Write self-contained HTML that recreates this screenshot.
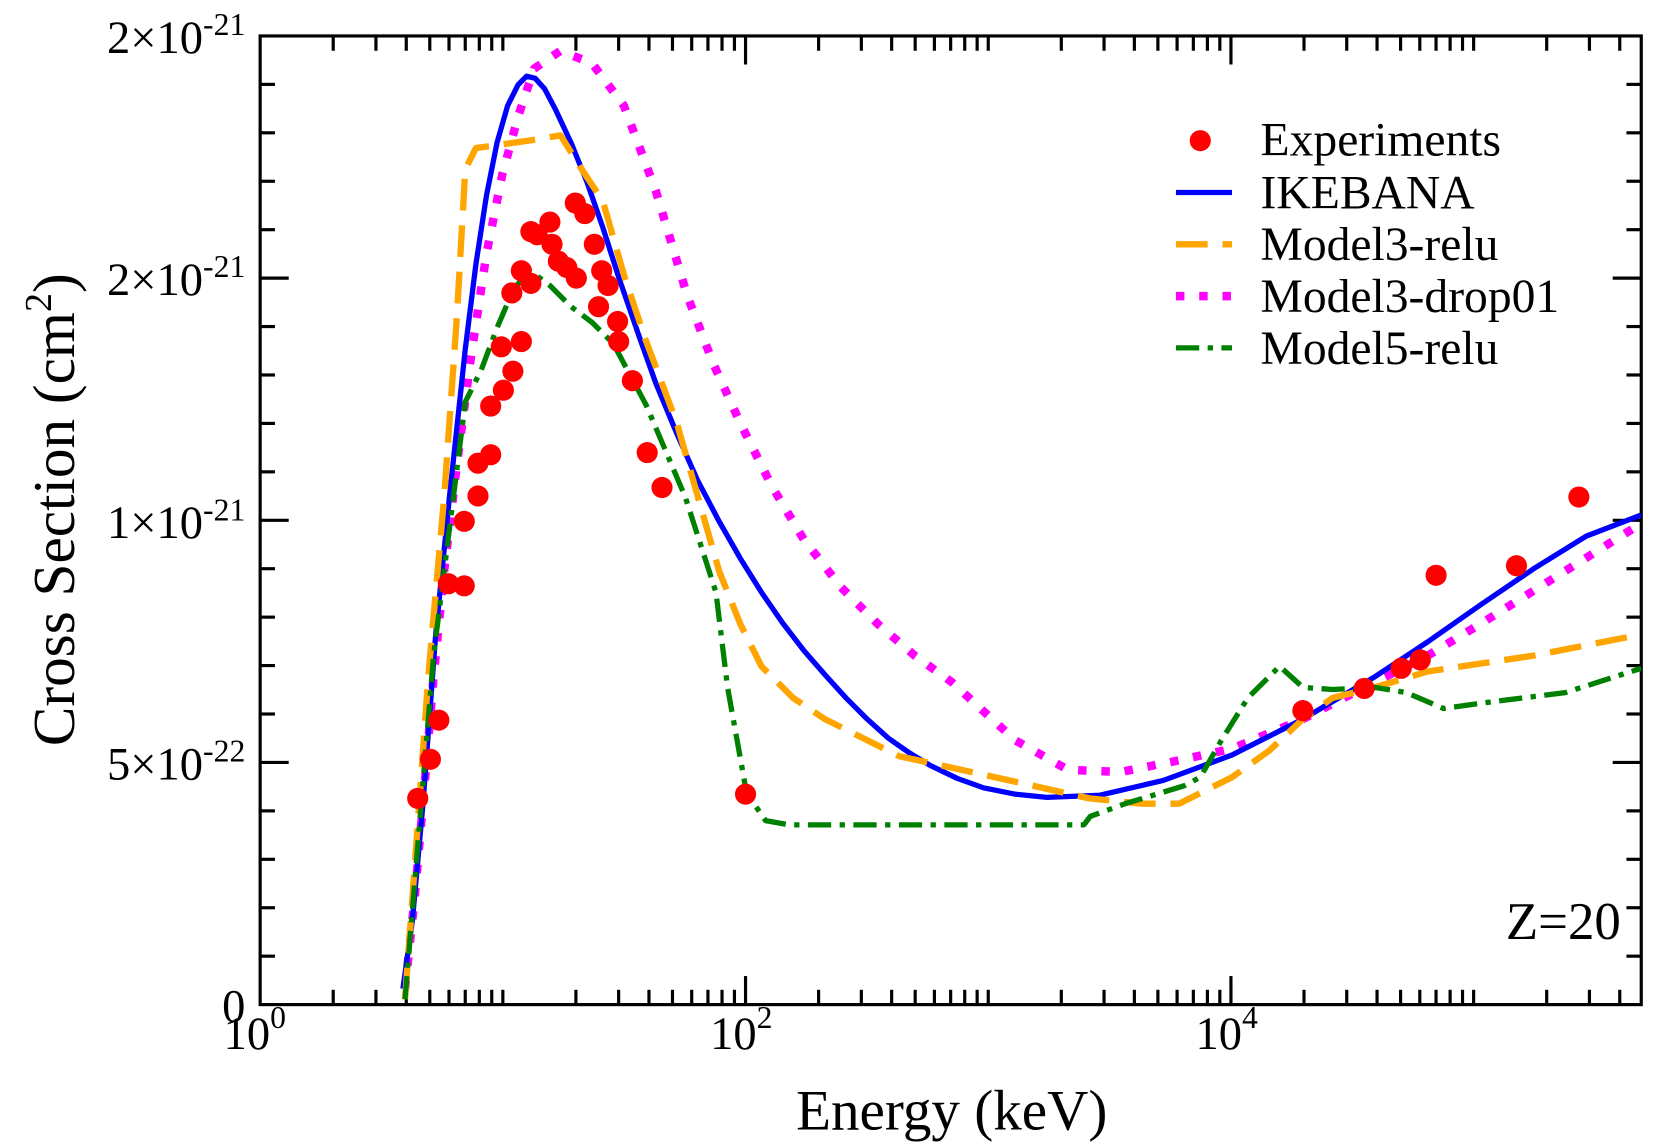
<!DOCTYPE html>
<html><head><meta charset="utf-8"><style>html,body{margin:0;padding:0;background:#fff}svg{display:block}</style></head>
<body>
<svg width="1655" height="1148" viewBox="0 0 1565 1085.6" preserveAspectRatio="none" xmlns="http://www.w3.org/2000/svg" font-family="Liberation Serif, serif">
<defs><clipPath id="c"><rect x="246" y="34" width="1306" height="916"/></clipPath></defs>
<rect x="246" y="34" width="1306" height="916" stroke="#000" stroke-width="3" fill="none"/>
<g stroke="#000" stroke-width="3" id="ticks"></g>
<g font-size="44" fill="#000" text-anchor="end">
<text x="232" y="966">0</text>
<text x="232" y="737">5×10<tspan dy="-17" font-size="30">-22</tspan></text>
<text x="232" y="509">1×10<tspan dy="-17" font-size="30">-21</tspan></text>
<text x="232" y="279">2×10<tspan dy="-17" font-size="30">-21</tspan></text>
<text x="232" y="50">2×10<tspan dy="-17" font-size="30">-21</tspan></text>
</g>
<g font-size="44" fill="#000" text-anchor="middle">
<text x="241" y="992">10<tspan dy="-20" font-size="30">0</tspan></text>
<text x="701" y="992">10<tspan dy="-20" font-size="30">2</tspan></text>
<text x="1160" y="992">10<tspan dy="-20" font-size="30">4</tspan></text>
<text x="900" y="1068" font-size="54">Energy (keV)</text>
<text transform="translate(70,482) rotate(-90)" font-size="56">Cross Section (cm<tspan dy="-22" font-size="36">2</tspan><tspan dy="22">)</tspan></text>
</g>
<text x="1424" y="888" font-size="50">Z=20</text>
<g clip-path="url(#c)" fill="none" stroke-linejoin="round">
<polyline stroke="#ff00ff" stroke-width="8" stroke-dasharray="8,14" points="383,935 392,850 400,760 410,640 420,540 432,440 445,340 460,240 475,165 490,110 505,65 530,48 560,60 590,100 620,180 650,280 675,345 700,400 730,460 760,510 795,555 830,590 865,620 900,645 960,700 1010,728 1060,730 1110,720 1165,708 1232,680 1300,645 1350,620 1400,590 1480,540 1552,495"/>
<polyline stroke="#0000ff" stroke-width="5" points="381,935 390,870 400,760 412,600 425,470 440,330 450,250 460,185 470,135 480,100 490,80 498,72 506,74 515,84 525,103 540,135 555,172 570,215 585,262 604,317 620,362 640,410 660,455 680,493 700,528 720,560 740,589 760,615 780,638 800,660 820,680 840,698 860,712 880,724 905,736 930,745 960,751 990,754 1040,752 1100,738 1165,714 1232,680 1300,640 1350,607 1400,572 1450,538 1500,507 1552,487"/>
<polyline stroke="#ffa500" stroke-width="6" stroke-dasharray="30,14" points="383,945 395,780 405,640 420,470 432,300 440,160 450,140 500,133 530,128 550,160 570,190 590,260 610,320 640,400 660,470 680,540 700,590 720,630 750,660 780,680 850,715 950,737 1030,755 1080,760 1115,760 1165,735 1200,710 1232,680 1260,660 1300,650 1350,635 1450,620 1552,600"/>
<polyline stroke="#008000" stroke-width="5" stroke-dasharray="22,8,5,8" points="383,945 395,800 410,620 425,500 440,380 455,350 470,310 485,275 500,255 520,270 540,290 560,305 580,325 611,383 648,470 677,560 688,650 706,750 724,776 746,780 1025,780 1031,772 1064,760 1120,743 1135,735 1155,700 1180,660 1210,630 1232,650 1260,652 1300,650 1330,655 1365,670 1400,665 1480,655 1552,632"/>
</g>
<g fill="#ff0000" id="pts"></g>
<g font-size="45" fill="#000">
<circle cx="1135" cy="133" r="10" fill="#ff0000"/>
<text x="1192" y="147">Experiments</text>
<line x1="1112" y1="182" x2="1165" y2="182" stroke="#0000ff" stroke-width="5"/>
<text x="1192" y="197">IKEBANA</text>
<line x1="1112" y1="231" x2="1165" y2="231" stroke="#ffa500" stroke-width="6" stroke-dasharray="30,14"/>
<text x="1192" y="246">Model3-relu</text>
<line x1="1112" y1="280" x2="1165" y2="280" stroke="#ff00ff" stroke-width="8" stroke-dasharray="8,14"/>
<text x="1192" y="295">Model3-drop01</text>
<line x1="1112" y1="329" x2="1165" y2="329" stroke="#008000" stroke-width="5" stroke-dasharray="22,8,5,8"/>
<text x="1192" y="344">Model5-relu</text>
</g>
<script>
var ns="http://www.w3.org/2000/svg",T=document.getElementById("ticks"),P=document.getElementById("pts");
function L(a,b,c,d){var l=document.createElementNS(ns,"line");l.setAttribute("x1",a);l.setAttribute("y1",b);l.setAttribute("x2",c);l.setAttribute("y2",d);T.appendChild(l);}
var x0=246,dec=229.5;
for(var d=0;d<6;d++)for(var k=1;k<10;k++){var x=x0+dec*(d+Math.log10(k));if(x>1552)continue;var len=(k==1&&d%2==0)?27:14;if(x<=247)continue;L(x,950,x,950-len);L(x,34,x,34+len);}
for(var i=1;i<20;i++){var y=950-i*45.8;var len=(i%5==0)?27:14;L(246,y,246+len,y);L(1552,y,1552-len,y);}
var pts=[[395,755],[407,718],[415,681],[424,552],[439,554],[439,493],[452,469],[452,438],[464,430],[464,384],[476,369],[474,328],[485,351],[484,277],[493,323],[493,256],[502,268],[502,219],[508,222],[520,210],[522,231],[528,247],[536,253],[545,263],[544,192],[553,202],[562,231],[566,290],[569,256],[575,270],[584,304],[585,323],[598,360],[612,428],[626,461],[705,751],[1232,672],[1290,651],[1325,632],[1343,624],[1358,544],[1434,535],[1493,470]];
pts.forEach(function(p){var c=document.createElementNS(ns,"circle");c.setAttribute("cx",p[0]);c.setAttribute("cy",p[1]);c.setAttribute("r",10);P.appendChild(c);});
</script>
</svg>
</body></html>
